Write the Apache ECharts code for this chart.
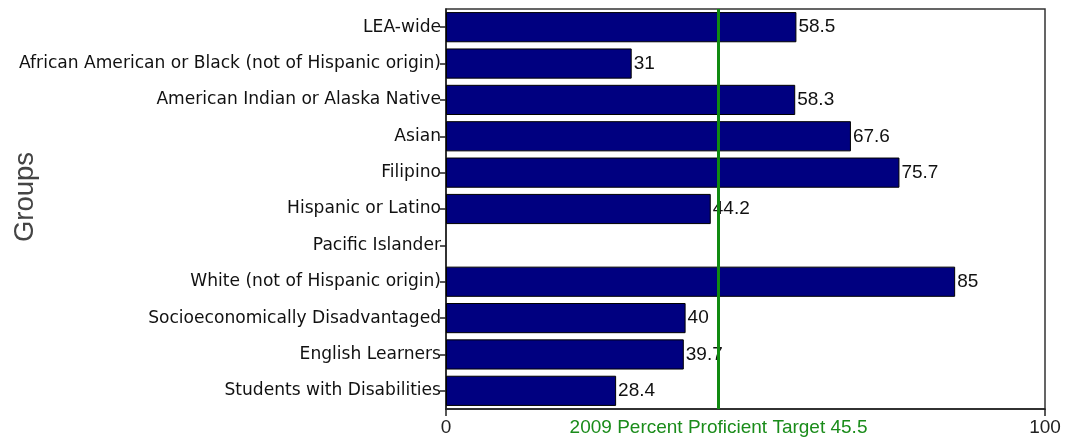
<!DOCTYPE html>
<html><head><meta charset="utf-8">
<script src="https://cdn.jsdelivr.net/npm/echarts@6/dist/echarts.min.js"></script>
<style>html,body{margin:0;padding:0;background:#fff}#c{width:1066px;height:447px}</style>
</head><body><div id="c"></div>
<script>
var categories = ["LEA-wide","African American or Black (not of Hispanic origin)","American Indian or Alaska Native","Asian","Filipino","Hispanic or Latino","Pacific Islander","White (not of Hispanic origin)","Socioeconomically Disadvantaged","English Learners","Students with Disabilities"];
var values = [58.5, 31, 58.3, 67.6, 75.7, 44.2, null, 85, 40, 39.7, 28.4];
var target = 45.5;
var targetLabel = "2009 Percent Proficient Target 45.5";
var yAxisTitle = "Groups";
var axisTicks = [0, 100];

var chart = echarts.init(document.getElementById('c'), null, {renderer: 'canvas'});
chart.setOption({
  animation: false,
  grid: {left: 446, right: 21, top: 9, bottom: 38, containLabel: false, outerBoundsMode: 'none',
    show: true, borderColor: '#333', borderWidth: 1.5, backgroundColor: '#fff'},
  graphic: [{
    type: 'text', x: 25, y: 197, rotation: Math.PI / 2,
    style: {text: yAxisTitle, fill: '#444', font: '27.5px "Liberation Sans", Arial, sans-serif',
      align: 'center', verticalAlign: 'middle'}
  }],
  xAxis: [{
    type: 'value', min: 0, max: 100, interval: 100,
    axisLine: {show: true, lineStyle: {color: '#222', width: 1.5}},
    axisTick: {show: true, length: 7, inside: false, lineStyle: {color: '#222', width: 1.5}},
    axisLabel: {color: '#222', fontSize: 19, fontFamily: 'Liberation Sans, Arial, sans-serif', margin: 9,
      customValues: axisTicks},
    splitLine: {show: false}
  }, {
    type: 'value', min: 0, max: 100, position: 'bottom',
    axisLine: {show: false}, axisTick: {show: false}, splitLine: {show: false},
    axisLabel: {show: true, customValues: [target], color: '#1a8c1a', fontSize: 19,
      fontFamily: 'Liberation Sans, Arial, sans-serif', margin: 9,
      formatter: function(){ return targetLabel; }}
  }],
  yAxis: {
    type: 'category', data: categories, inverse: true,
    axisLine: {show: true, lineStyle: {color: '#222', width: 1.5}},
    axisTick: {show: true, alignWithLabel: true, length: 6, lineStyle: {color: '#222', width: 1.5}},
    axisLabel: {color: '#111', fontSize: 17.1, fontFamily: 'DejaVu Sans, Verdana, sans-serif', margin: 5}
  },
  series: [{
    type: 'bar', data: values, barCategoryGap: '17%',
    itemStyle: {color: '#000080', borderColor: '#000', borderWidth: 1},
    label: {show: true, position: 'right', distance: 2, color: '#111', fontSize: 19,
      fontFamily: 'Liberation Sans, Arial, sans-serif'},
    markLine: {
      silent: true, symbol: 'none', z: 10,
      lineStyle: {color: '#108a10', width: 3, type: 'solid'},
      label: {show: false},
      data: [{xAxis: target}]
    }
  }]
});
</script></body></html>
